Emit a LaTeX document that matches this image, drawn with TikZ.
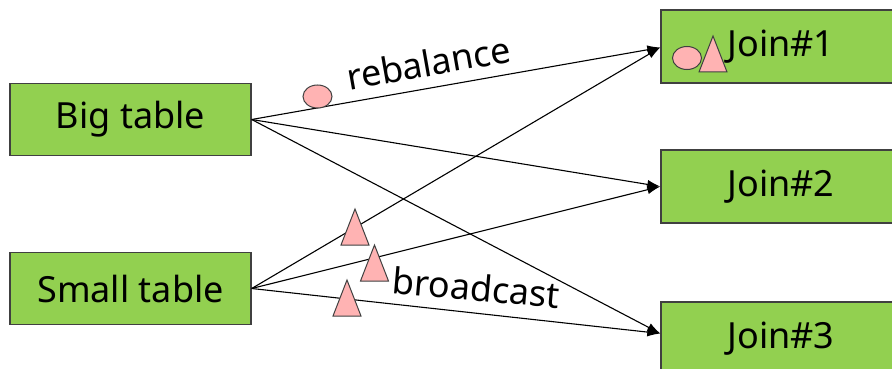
\documentclass[tikz,border=0pt]{standalone}
\usepackage{fontspec}
\setmainfont{Noto Sans}
\usetikzlibrary{arrows.meta,shapes.geometric}
\definecolor{boxgreen}{RGB}{146,208,80}
\definecolor{markpink}{RGB}{255,179,179}
\definecolor{edgegray}{RGB}{64,64,64}
\begin{document}
\begin{tikzpicture}[
    tablebox/.style={draw=edgegray, line width=1.4pt, fill=boxgreen, minimum width=241pt, minimum height=72pt, inner sep=0pt, font=\fontsize{36}{42}\selectfont},
    joinbox/.style={tablebox, minimum width=240pt, minimum height=73pt},
    flow/.style={draw, line width=1.1pt, -{Latex[length=13pt,width=9pt]}},
    flowlabel/.style={anchor=base, inner sep=0pt, font=\fontsize{36}{42}\selectfont},
    markcirc/.style={ellipse, draw=edgegray, line width=1pt, fill=markpink, minimum width=29pt, minimum height=23pt, inner sep=0pt},
    marktri/.style={draw=edgegray, line width=1pt, fill=markpink}]

    \useasboundingbox (0pt, 0pt) rectangle (892pt, -369pt);

    \node at (130.5pt, -119.5pt) (big) [tablebox] {Big table};
    \node at (130.5pt, -288.5pt) (small) [tablebox] {Small table};
    \node at (781pt, -46.5pt) (join1) [joinbox] {Join\#1};
    \node at (781pt, -186.5pt) (join2) [joinbox] {Join\#2};
    \node at (781pt, -338.5pt) (join3) [joinbox] {Join\#3};

    \path[flow] (big.east) -- ([yshift=-1pt]join1.west);
    \path[flow] (big.east) -- (join2.west);
    \path[flow] (big.east) -- ([yshift=5pt]join3.west);
    \path[flow] (small.east) -- ([yshift=-1pt]join1.west);
    \path[flow] (small.east) -- (join2.west);
    \path[flow] (small.east) -- ([yshift=5pt]join3.west);

    \node at (431pt, -76pt) (rebal) [flowlabel, rotate=10] {rebalance};
    \node at (475pt, -301pt) (bcast) [flowlabel, rotate=-5] {broadcast};

    % row markers
    \node at (317.5pt, -96.5pt) (c1) [markcirc] {};
    \node at (687pt, -58pt) (c2) [markcirc] {};
    \foreach \x/\y in {355/209, 374.5/245, 347/280, 713/36}
        \path[marktri] (\x pt, -\y pt) -- ++(14pt, -36pt) -- ++(-28pt, 0pt) -- cycle;

\end{tikzpicture}
\end{document}
